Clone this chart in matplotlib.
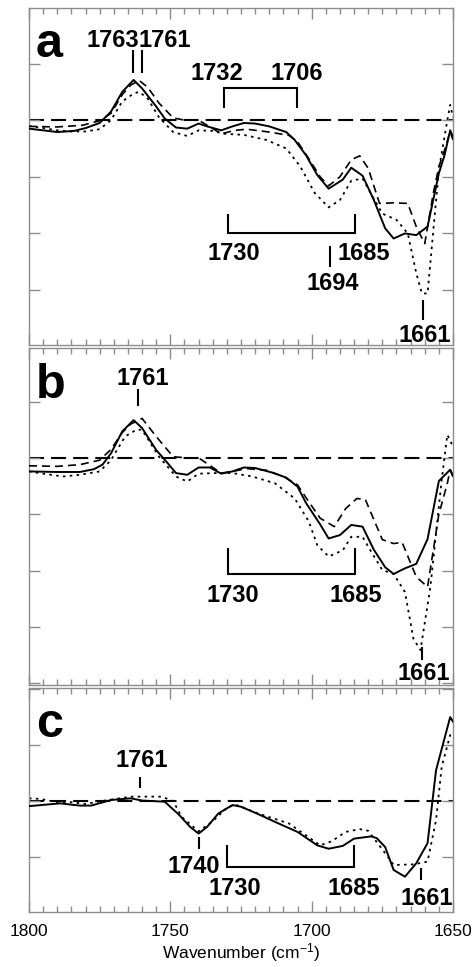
import matplotlib
matplotlib.use('Agg')
import matplotlib.pyplot as plt
from matplotlib.ticker import MultipleLocator

plt.rcParams['font.family'] = ['Liberation Sans', 'DejaVu Sans']
plt.rcParams['mathtext.fontset'] = 'custom'
plt.rcParams['mathtext.rm'] = 'Liberation Sans'
plt.rcParams['mathtext.default'] = 'regular'

# ---------------- data (wavenumber, difference absorbance, arbitrary units) -------------
a_solid_wn = [1800, 1790, 1784, 1780, 1775, 1771, 1767, 1763, 1760, 1755, 1752, 1748, 1744, 1740,
              1737, 1732, 1728, 1724, 1720, 1715, 1709, 1706, 1702, 1698, 1694, 1689, 1686, 1682,
              1678, 1674, 1671, 1667, 1663, 1659, 1655, 1653, 1651, 1650]
a_solid = [-0.15, -0.21, -0.19, -0.14, -0.05, 0.15, 0.50, 0.71, 0.56, 0.24, 0.03, -0.13, -0.15, -0.06,
           -0.11, -0.18, -0.11, -0.05, -0.06, -0.11, -0.21, -0.35, -0.62, -0.97, -1.21, -1.05, -0.84, -0.98,
           -1.41, -1.91, -2.09, -2.00, -2.03, -1.88, -0.94, -0.62, -0.18, -0.30]

a_dash_wn = [1800, 1790, 1781, 1775, 1771, 1767, 1764, 1761, 1758, 1754, 1749, 1745, 1740, 1736,
             1732, 1727, 1723, 1715, 1708, 1705, 1701, 1697, 1694, 1690, 1686, 1683, 1680, 1676,
             1671, 1666, 1663, 1660, 1657, 1655, 1653, 1651, 1650]
a_dash = [-0.11, -0.12, -0.09, -0.01, 0.12, 0.45, 0.62, 0.70, 0.58, 0.30, 0.04, 0.00, 0.00, -0.12,
          -0.24, -0.18, -0.16, -0.21, -0.27, -0.38, -0.68, -1.00, -1.16, -1.00, -0.70, -0.63, -0.85, -1.47,
          -1.46, -1.47, -1.88, -2.18, -1.30, -0.82, -0.53, -0.20, -0.35]

a_dot_wn = [1800, 1795, 1790, 1785, 1780, 1775, 1771, 1767, 1763, 1761, 1758, 1754, 1749, 1744,
            1740, 1735, 1731, 1724, 1716, 1709, 1704, 1699, 1694, 1690, 1686, 1682, 1679, 1675,
            1670, 1666, 1663, 1661, 1659, 1657.5, 1655, 1652, 1651, 1650]
a_dot = [-0.10, -0.14, -0.18, -0.20, -0.20, -0.16, 0.00, 0.33, 0.47, 0.50, 0.38, 0.05, -0.21, -0.28,
         -0.18, -0.19, -0.24, -0.26, -0.35, -0.50, -0.82, -1.28, -1.54, -1.41, -1.07, -1.03, -1.30, -1.65,
         -1.76, -2.00, -2.70, -3.06, -3.06, -2.24, -0.88, 0.00, 0.27, 0.05]

b_solid_wn = [1800, 1790, 1782, 1777, 1774, 1771, 1767, 1763, 1760, 1755, 1751, 1748, 1744, 1740,
              1736, 1732, 1728, 1724, 1720, 1714, 1709, 1705, 1702, 1697, 1694, 1690, 1686, 1682,
              1678, 1674, 1671, 1667, 1663, 1659, 1655, 1651, 1650]
b_solid = [-0.24, -0.25, -0.25, -0.20, -0.12, 0.08, 0.47, 0.67, 0.53, 0.14, -0.09, -0.27, -0.30, -0.17,
           -0.17, -0.28, -0.24, -0.17, -0.18, -0.26, -0.35, -0.51, -0.80, -1.18, -1.43, -1.37, -1.19, -1.22,
           -1.63, -1.94, -2.06, -1.96, -1.88, -1.44, -0.41, -0.21, -0.32]

b_dash_wn = [1800, 1790, 1782, 1775, 1771, 1767, 1764, 1760, 1755, 1749, 1744, 1740, 1732, 1728,
             1723, 1716, 1710, 1705, 1701, 1697, 1692, 1688, 1684, 1681, 1675, 1671, 1668, 1663,
             1659, 1655, 1652, 1651, 1650]
b_dash = [-0.14, -0.15, -0.12, -0.04, 0.15, 0.45, 0.60, 0.70, 0.38, 0.02, 0.00, 0.00, -0.27, -0.24,
          -0.19, -0.22, -0.33, -0.48, -0.78, -1.07, -1.22, -0.90, -0.72, -0.74, -1.45, -1.52, -1.50, -2.11,
          -2.29, -1.00, -0.45, -0.21, -0.34]

b_dot_wn = [1800, 1795, 1788, 1782, 1775, 1771, 1766, 1762, 1760, 1754, 1748, 1744, 1740, 1734,
            1728, 1721, 1713, 1706, 1701, 1698, 1694, 1689, 1686, 1682, 1679, 1675, 1671, 1667,
            1664, 1661.5, 1658, 1654, 1652, 1650]
b_dot = [-0.24, -0.28, -0.33, -0.30, -0.24, -0.04, 0.38, 0.50, 0.50, 0.02, -0.33, -0.42, -0.28, -0.27,
         -0.27, -0.33, -0.45, -0.72, -1.13, -1.55, -1.75, -1.64, -1.40, -1.40, -1.66, -1.99, -2.06, -2.38,
         -3.21, -3.41, -2.29, -0.39, 0.41, 0.20]

c_solid_wn = [1800, 1789, 1782, 1778, 1771, 1764, 1760, 1752, 1747, 1743, 1740, 1737, 1733, 1728,
              1725, 1719, 1713, 1705, 1698, 1694, 1689, 1685, 1679, 1677, 1674, 1671, 1667, 1663,
              1659, 1656, 1651, 1650]
c_solid = [-0.09, -0.04, -0.08, -0.08, 0.02, 0.05, 0.01, -0.01, -0.24, -0.46, -0.58, -0.46, -0.22, -0.07,
           -0.10, -0.23, -0.37, -0.55, -0.79, -0.85, -0.80, -0.67, -0.63, -0.66, -0.82, -1.23, -1.35, -1.11,
           -0.75, 0.55, 1.50, 1.42]

c_dot_wn = [1800, 1796, 1790, 1785, 1780, 1772, 1764, 1753, 1749, 1746, 1740, 1735, 1730, 1727,
            1719, 1708, 1697, 1693, 1688, 1683, 1680, 1674, 1671, 1664, 1659, 1656, 1654, 1651, 1650]
c_dot = [0.05, 0.04, -0.02, -0.02, -0.05, 0.02, 0.08, 0.08, 0.00, -0.28, -0.54, -0.36, -0.12, -0.06,
         -0.22, -0.40, -0.79, -0.72, -0.55, -0.50, -0.53, -0.93, -1.14, -1.13, -1.08, -0.34, 0.61, 1.18, 1.15]

x_ticks = [1800, 1750, 1700, 1650]
x_label = 'Wavenumber (cm$^{-1}$)'
panel_letters = ['a', 'b', 'c']

# ---------------- styles ----------------
solid_style = dict(color='black', lw=1.4, linestyle='-')
dash_style = dict(color='black', lw=1.2, linestyle=(0, (4.8, 3.0)))
dot_style = dict(color='black', lw=1.3, linestyle=(0, (1.4, 2.4)))
base_style = dict(color='black', lw=1.5, linestyle=(0, (7.2, 3.4)))
mark_lw = 1.5
spine_col = '#8c8c8c'
ann_fs = 17

fig = plt.figure(figsize=(4.74, 9.67), dpi=100)
W, H = 474.0, 967.0
def rect(l, t, r, b):
    return [l / W, 1 - b / H, (r - l) / W, (b - t) / H]

ax_a = fig.add_axes(rect(29, 8, 453, 345))
ax_b = fig.add_axes(rect(29, 348, 453, 685))
ax_c = fig.add_axes(rect(29, 688, 453, 912))

ax_a.set_ylim(-3.97, 1.98)
ax_b.set_ylim(-4.03, 1.95)
ax_c.set_ylim(-1.98, 2.02)

for ax in (ax_a, ax_b, ax_c):
    ax.set_xlim(1800, 1650)
    ax.axhline(0, **base_style, zorder=1)
    for s in ax.spines.values():
        s.set_color(spine_col)
        s.set_linewidth(1.0)
    ax.xaxis.set_major_locator(MultipleLocator(50))
    ax.xaxis.set_minor_locator(MultipleLocator(5))
    ax.yaxis.set_major_locator(MultipleLocator(1))
    ax.tick_params(axis='both', which='both', direction='in', top=True, bottom=True,
                   left=True, right=True, color=spine_col, width=1.0)
    ax.tick_params(axis='x', which='major', length=8)
    ax.tick_params(axis='x', which='minor', length=4)
    ax.tick_params(axis='y', which='major', length=8)
    ax.set_yticklabels([])

for ax in (ax_a, ax_b):
    ax.set_xticklabels([])

ax_c.set_xticks(x_ticks)
ax_c.set_xticklabels([str(t) for t in x_ticks], fontsize=12.5)
ax_c.tick_params(axis='x', which='major', pad=9)
ax_c.set_xlabel(x_label, fontsize=12.5, labelpad=1)

# curves
ax_a.plot(a_dot_wn, a_dot, **dot_style, zorder=2)
ax_a.plot(a_dash_wn, a_dash, **dash_style, zorder=3)
ax_a.plot(a_solid_wn, a_solid, **solid_style, zorder=4)
ax_b.plot(b_dot_wn, b_dot, **dot_style, zorder=2)
ax_b.plot(b_dash_wn, b_dash, **dash_style, zorder=3)
ax_b.plot(b_solid_wn, b_solid, **solid_style, zorder=4)
ax_c.plot(c_dot_wn, c_dot, **dot_style, zorder=2)
ax_c.plot(c_solid_wn, c_solid, **solid_style, zorder=4)

# panel letters
for ax, letter, y in zip((ax_a, ax_b, ax_c), panel_letters, (1.11, 1.07, 1.14)):
    ax.text(1797.6, y, letter, fontsize=35, fontweight='bold', ha='left', va='baseline')

def vline(ax, x, y0, y1):
    ax.plot([x, x], [y0, y1], color='black', lw=mark_lw, solid_capstyle='butt')

def bracket(ax, x0, x1, y_end, y_bar):
    ax.plot([x0, x0, x1, x1], [y_end, y_bar, y_bar, y_end], color='black', lw=mark_lw,
            solid_capstyle='butt', solid_joinstyle='miter')

def label(ax, x, y, s):
    ax.text(x, y, s, fontsize=ann_fs, fontweight='bold', ha='center', va='baseline')

# panel a annotations
vline(ax_a, 1763.3, 0.83, 1.24)
vline(ax_a, 1760.0, 0.83, 1.24)
label(ax_a, 1770.3, 1.29, '1763')
label(ax_a, 1751.9, 1.29, '1761')
bracket(ax_a, 1731.0, 1705.3, 0.21, 0.57)
label(ax_a, 1733.5, 0.71, '1732')
label(ax_a, 1705.4, 0.71, '1706')
bracket(ax_a, 1729.5, 1684.7, -1.65, -2.0)
label(ax_a, 1727.5, -2.47, '1730')
label(ax_a, 1681.5, -2.47, '1685')
vline(ax_a, 1693.5, -2.23, -2.59)
label(ax_a, 1692.4, -3.0, '1694')
vline(ax_a, 1660.5, -3.18, -3.53)
label(ax_a, 1659.9, -3.92, '1661')

# panel b annotations
vline(ax_b, 1761.3, 0.92, 1.22)
label(ax_b, 1759.8, 1.30, '1761')
bracket(ax_b, 1729.5, 1684.7, -1.6, -2.06)
label(ax_b, 1728.0, -2.55, '1730')
label(ax_b, 1684.4, -2.55, '1685')
vline(ax_b, 1661.1, -3.35, -3.59)
label(ax_b, 1660.5, -3.94, '1661')

# panel c annotations
vline(ax_c, 1760.7, 0.23, 0.43)
label(ax_c, 1760.2, 0.61, '1761')
vline(ax_c, 1739.8, -0.64, -0.85)
label(ax_c, 1741.6, -1.29, '1740')
bracket(ax_c, 1729.8, 1685.0, -0.79, -1.18)
label(ax_c, 1727.1, -1.68, '1730')
label(ax_c, 1685.0, -1.68, '1685')
vline(ax_c, 1661.4, -1.20, -1.41)
label(ax_c, 1659.3, -1.86, '1661')

fig.savefig('out.png', dpi=100)
